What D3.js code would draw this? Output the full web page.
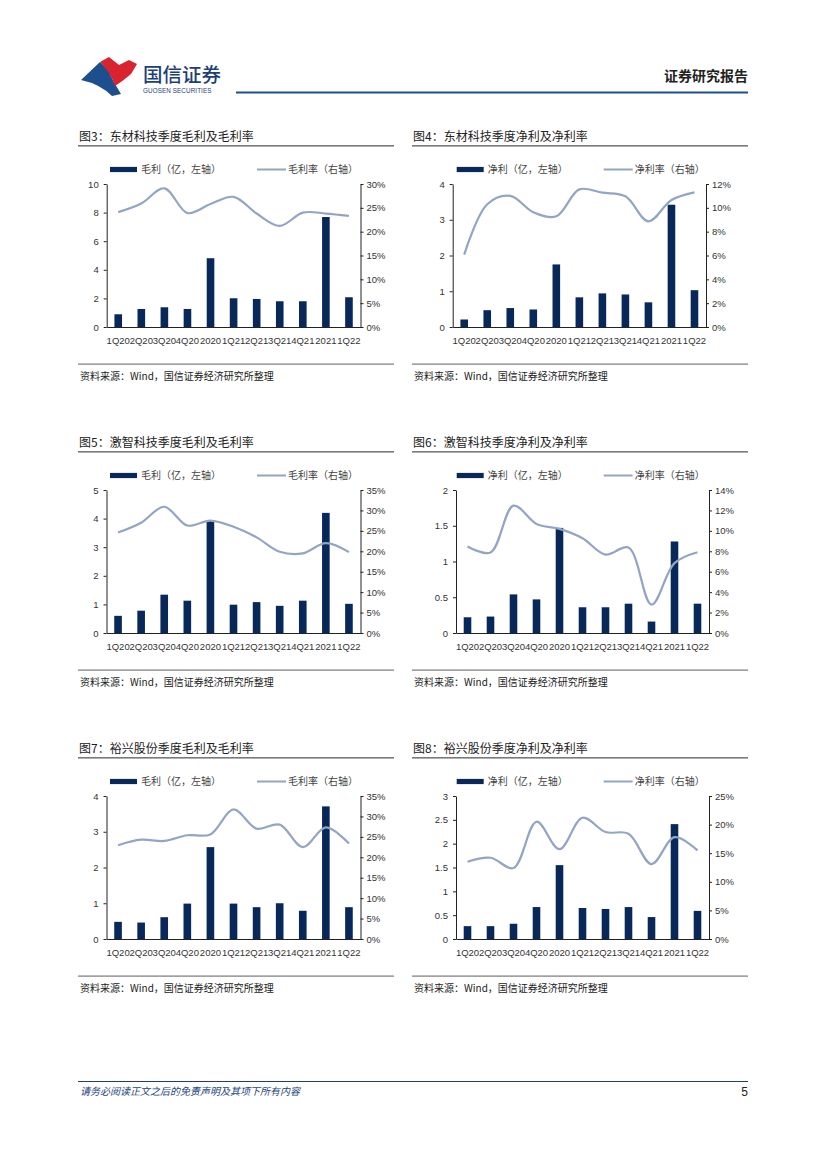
<!DOCTYPE html>
<html><head><meta charset="utf-8">
<script src="https://cdn.jsdelivr.net/npm/d3@7/dist/d3.min.js"></script>
<style>
html,body{margin:0;padding:0;background:#fff;}
svg{display:block;}
text{font-family:"Liberation Sans",Arial,sans-serif;}
.cjk{font-family:"Noto Sans CJK SC","Noto Sans",sans-serif;}
</style></head>
<body>
<script>
// ---------- data ----------
const categories = ["1Q20","2Q20","3Q20","4Q20","2020","1Q21","2Q21","3Q21","4Q21","2021","1Q22"];

const dongcaiGross        = [0.89,1.26,1.38,1.26,4.81,2.01,1.96,1.80,1.80,7.69,2.08];
const dongcaiGrossMargin  = [24.1,25.9,29.1,23.9,25.8,27.3,23.8,21.2,24.0,23.8,23.3];
const dongcaiNet          = [0.21,0.47,0.53,0.49,1.75,0.83,0.94,0.91,0.69,3.42,1.03];
const dongcaiNetMargin    = [6.08,10.3,11.0,9.63,9.29,11.55,11.27,10.97,8.87,10.66,11.3];

const jizhiGross          = [0.60,0.78,1.34,1.13,3.92,0.99,1.08,0.95,1.13,4.20,1.02];
const jizhiGrossMargin    = [24.6,27.0,30.9,26.3,27.5,26.0,23.4,19.9,19.5,22.0,19.8];
const jizhiNet            = [0.22,0.23,0.54,0.47,1.47,0.36,0.36,0.41,0.16,1.28,0.41];
const jizhiNetMargin      = [8.47,7.88,12.47,10.68,10.19,9.28,7.68,8.37,2.77,6.84,7.91];

const yuxingGross         = [0.48,0.46,0.61,0.99,2.57,0.99,0.89,1.00,0.79,3.71,0.89];
const yuxingGrossMargin   = [22.95,24.3,24.0,25.4,25.6,31.7,27.0,28.0,22.5,27.3,23.4];
const yuxingNet           = [0.27,0.27,0.32,0.67,1.55,0.65,0.63,0.67,0.46,2.41,0.59];
const yuxingNetMargin     = [13.5,14.2,12.4,20.5,15.7,21.2,18.7,18.4,13.1,17.8,15.5];

const leftTicks1 = [0,2,4,6,8,10],      rightTicks1 = [0,5,10,15,20,25,30];
const leftTicks2 = [0,1,2,3,4],          rightTicks2 = [0,2,4,6,8,10,12];
const leftTicks3 = [0,1,2,3,4,5],        rightTicks3 = [0,5,10,15,20,25,30,35];
const leftTicks4 = [0,0.5,1,1.5,2],      rightTicks4 = [0,2,4,6,8,10,12,14];
const leftTicks5 = [0,1,2,3,4],          rightTicks5 = [0,5,10,15,20,25,30,35];
const leftTicks6 = [0,0.5,1,1.5,2,2.5,3],rightTicks6 = [0,5,10,15,20,25];

const titles = ["图3：东材科技季度毛利及毛利率","图4：东材科技季度净利及净利率",
                "图5：激智科技季度毛利及毛利率","图6：激智科技季度净利及净利率",
                "图7：裕兴股份季度毛利及毛利率","图8：裕兴股份季度净利及净利率"];
const grossLegend = ["毛利（亿，左轴）","毛利率（右轴）"];
const netLegend   = ["净利（亿，左轴）","净利率（右轴）"];
const sourceText  = "资料来源：Wind，国信证券经济研究所整理";

// ---------- page ----------
const W = 827, H = 1169;
const BAR = "#08285a", LINE = "#93a5c3";
const svg = d3.select("body").append("svg").attr("width", W).attr("height", H);

// header logo
const logo = svg.append("g");
logo.append("path").attr("fill","#1d4f8f")
  .attr("d","M81,80 L100,62 L108,70 Q113,82 121,94 L112,96 Q100,84 81,80 Z");
logo.append("path").attr("fill","#d9232e")
  .attr("d","M100,62 L109,57 L119,65 L129,60 L137,64 L131,74 Q123,81 115,86 Q111,73 100,62 Z");
svg.append("text").attr("class","cjk").attr("x",143).attr("y",82)
  .attr("font-size",19.5).attr("font-weight",500).attr("fill","#1d3f78").text("国信证券");
svg.append("text").attr("x",143).attr("y",92.5)
  .attr("font-size",6.3).attr("fill","#1d3f78").attr("letter-spacing",0.1).text("GUOSEN SECURITIES");
svg.append("rect").attr("x",236).attr("y",91.5).attr("width",512).attr("height",2).attr("fill","#1f4f8c");
svg.append("text").attr("class","cjk").attr("x",748).attr("y",81).attr("text-anchor","end")
  .attr("font-size",14).attr("font-weight",700).attr("fill","#222").text("证券研究报告");

// footer
svg.append("rect").attr("x",78).attr("y",1081).attr("width",670).attr("height",1).attr("fill","#1f3f6e");
svg.append("text").attr("class","cjk").attr("x",80).attr("y",1095)
  .attr("font-size",10).attr("font-style","italic").attr("fill","#23467e")
  .attr("transform","skewX(0)").text("请务必阅读正文之后的免责声明及其项下所有内容");
svg.append("text").attr("x",748).attr("y",1096).attr("text-anchor","end")
  .attr("font-size",12).attr("fill","#222").text("5");

// ---------- charts ----------
const charts = [
  {title:titles[0], legend:grossLegend, bars:dongcaiGross, line:dongcaiGrossMargin, lt:leftTicks1, rt:rightTicks1, col:0,row:0, x0:106.7, x1:360.5},
  {title:titles[1], legend:netLegend,   bars:dongcaiNet,   line:dongcaiNetMargin,   lt:leftTicks2, rt:rightTicks2, col:1,row:0, x0:452.7, x1:706},
  {title:titles[2], legend:grossLegend, bars:jizhiGross,   line:jizhiGrossMargin,   lt:leftTicks3, rt:rightTicks3, col:0,row:1, x0:106.5, x1:360.5},
  {title:titles[3], legend:netLegend,   bars:jizhiNet,     line:jizhiNetMargin,     lt:leftTicks4, rt:rightTicks4, col:1,row:1, x0:456, x1:709},
  {title:titles[4], legend:grossLegend, bars:yuxingGross,  line:yuxingGrossMargin,  lt:leftTicks5, rt:rightTicks5, col:0,row:2, x0:106.5, x1:360.5},
  {title:titles[5], legend:netLegend,   bars:yuxingNet,    line:yuxingNetMargin,    lt:leftTicks6, rt:rightTicks6, col:1,row:2, x0:456, x1:709},
];

const fmt = v => String(v);

charts.forEach(c => {
  const dy = c.row * 306;
  const colX = c.col === 0 ? 78 : 412;
  const colR = c.col === 0 ? 394 : 748;
  const g = svg.append("g");

  // title + rule
  g.append("text").attr("class","cjk").attr("x",colX+1).attr("y",141+dy)
    .attr("font-size",12).attr("fill","#222").text(c.title);
  g.append("rect").attr("x",colX).attr("y",145+dy).attr("width",colR-colX).attr("height",1.6).attr("fill","#7a7a7a");

  // legend
  const lx = c.col === 0 ? 110 : 456.7;
  const ly = 169.5 + dy;
  g.append("rect").attr("x",lx).attr("y",ly-2.6).attr("width",27).attr("height",5.2).attr("fill",BAR);
  g.append("text").attr("class","cjk").attr("x",lx+31).attr("y",ly+3.5)
    .attr("font-size",10).attr("fill","#444").text(c.legend[0]);
  g.append("line").attr("x1",lx+147).attr("x2",lx+176).attr("y1",ly).attr("y2",ly)
    .attr("stroke",LINE).attr("stroke-width",2);
  g.append("text").attr("class","cjk").attr("x",lx+178).attr("y",ly+3.5)
    .attr("font-size",10).attr("fill","#444").text(c.legend[1]);

  // scales
  const yTop = 184 + dy, yBot = 327 + dy;
  const x = d3.scaleBand().domain(categories).range([c.x0, c.x1]).paddingInner(0.67).paddingOuter(0.335);
  const yL = d3.scaleLinear().domain([0, d3.max(c.lt)]).range([yBot, yTop]);
  const yR = d3.scaleLinear().domain([0, d3.max(c.rt)]).range([yBot, yTop]);

  // bars
  g.selectAll(".bar").data(c.bars).join("rect")
    .attr("x",(d,i)=>x(categories[i]))
    .attr("width",x.bandwidth())
    .attr("y",d=>yL(d))
    .attr("height",d=>yBot-yL(d))
    .attr("fill",BAR);

  // line
  const lineGen = d3.line()
    .x((d,i)=>x(categories[i]) + x.bandwidth()/2)
    .y(d=>yR(d))
    .curve(d3.curveCatmullRom.alpha(0.5));
  g.append("path").datum(c.line).attr("d",lineGen)
    .attr("fill","none").attr("stroke",LINE).attr("stroke-width",2.2).attr("stroke-linejoin","round");

  // axes
  const axL = g.append("g").attr("transform",`translate(${c.x0},0)`)
    .call(d3.axisLeft(yL).tickValues(c.lt).tickFormat(fmt).tickSize(3).tickPadding(5).tickSizeOuter(0));
  const axR = g.append("g").attr("transform",`translate(${c.x1},0)`)
    .call(d3.axisRight(yR).tickValues(c.rt).tickFormat(v=>v+"%").tickSize(3).tickPadding(3).tickSizeOuter(0));
  const axB = g.append("g").attr("transform",`translate(0,${yBot})`)
    .call(d3.axisBottom(x).tickSize(0).tickPadding(10).tickSizeOuter(0));
  [axL,axR,axB].forEach(a=>{
    a.selectAll("path,line").attr("stroke","#222").attr("stroke-width",1);
    a.selectAll("text").attr("font-size",9.5).attr("fill","#333")
      .attr("font-family","'Liberation Sans',Arial,sans-serif");
  });

  // source rule + text
  g.append("rect").attr("x",colX).attr("y",363.5+dy).attr("width",colR-colX).attr("height",1.2).attr("fill","#7a7a7a");
  g.append("text").attr("class","cjk").attr("x",colX+2).attr("y",379.5+dy)
    .attr("font-size",10).attr("fill","#222").text(sourceText);
});
</script>
</body></html>
